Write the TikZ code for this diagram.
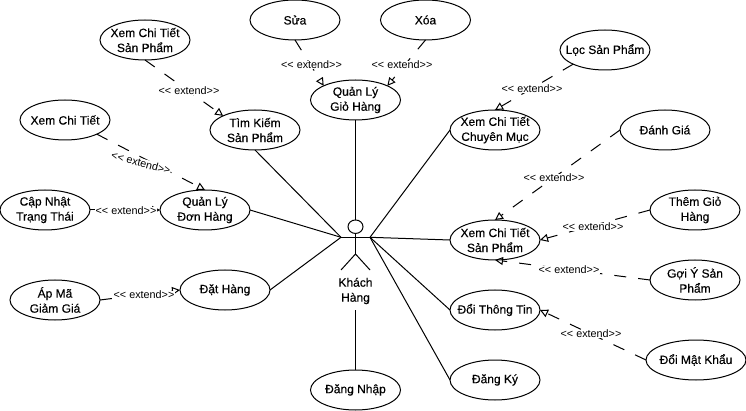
\documentclass[tikz,border=0pt]{standalone}
\usepackage{fontspec}
\setmainfont{Liberation Sans}
\newfontfamily\casefont[FakeBold=0.3]{Liberation Sans}
\usetikzlibrary{shapes.geometric,arrows.meta}
\tikzset{
  usecase/.style={ellipse,draw,line width=1pt,outer sep=0pt,inner xsep=-8pt,inner ysep=-1pt,minimum width=90pt,minimum height=40pt,align=center,font=\casefont\fontsize{12}{15}\selectfont},
  assoc/.style={line width=1pt},
  extendline/.style={line width=1pt,dash pattern=on 12pt off 12pt,-{Triangle[open,length=8pt,width=8pt]}},
  extendlabel/.style={fill=white,inner sep=0.5pt,font=\fontsize{10.8}{12}\selectfont}
}
\begin{document}
\begin{tikzpicture}[x=1pt,y=-1pt]
  \useasboundingbox (0,0) rectangle (746,411);
  \node[usecase] (sua) at (295,20) {Sửa}; \node[usecase] (xoa) at (425.5,20) {Xóa};
  \node[usecase] (ctsptop) at (145,40) {Xem Chi Tiết\\Sản Phẩm}; \node[usecase] (timkiem) at (255,130) {Tìm Kiếm\\Sản Phẩm};
  \node[usecase] (giohang) at (355.5,100) {Quản Lý\\Giỏ Hàng}; \node[usecase] (xemct) at (65,120) {Xem Chi Tiết};
  \node[usecase] (loc) at (605,50) {Lọc Sản Phẩm}; \node[usecase] (chuyenmuc) at (495,130) {Xem Chi Tiết\\Chuyên Mục};
  \node[usecase] (danhgia) at (665,130) {Đánh Giá}; \node[usecase] (themgio) at (695,210) {Thêm Giỏ\\Hàng};
  \node[usecase] (capnhat) at (45,210) {Cập Nhật\\Trạng Thái}; \node[usecase] (donhang) at (205,210) {Quản Lý\\Đơn Hàng};
  \node[usecase] (ctsp) at (495,240) {Xem Chi Tiết\\Sản Phẩm}; \node[usecase] (goiy) at (695,280) {Gợi Ý Sản\\Phẩm};
  \node[usecase] (apma) at (55,300) {Áp Mã\\Giảm Giá}; \node[usecase] (dathang) at (225,290) {Đặt Hàng};
  \node[usecase] (doitt) at (495,310) {Đổi Thông Tin}; \node[usecase,minimum width=100pt] (doimk) at (696,360) {Đổi Mật Khẩu};
  \node[usecase] (dangky) at (495,380) {Đăng Ký}; \node[usecase] (dangnhap) at (355.5,390) {Đăng Nhập};

  \node[ellipse,draw,line width=1pt,inner sep=0pt,outer sep=0pt,minimum width=15pt,minimum height=13.5pt] (head) at (355.5,226.7) {};
  \coordinate (armL) at (341,237.3); \coordinate (armR) at (370,237.3); \coordinate (hip) at (355.5,254);
  \coordinate (footL) at (341,270); \coordinate (footR) at (370,270);
  \draw[assoc] (armL) -- (armR);
  \draw[assoc] (head.south) -- (hip);
  \draw[assoc] (footL) -- (hip) -- (footR);
  \node[align=center,inner sep=0pt,minimum height=38pt,font=\casefont\fontsize{12}{15}\selectfont] (khach) at (355.5,291) {Khách\\Hàng};

  \draw[assoc] (giohang.south) -- (head.north);
  \draw[assoc] (timkiem.south) -- (armL);
  \draw[assoc] (donhang.east) -- (armL);
  \draw[assoc] (dathang.east) -- (armL);
  \draw[assoc] (chuyenmuc.west) -- (armR);
  \draw[assoc] (ctsp.west) -- (armR);
  \draw[assoc] (doitt.west) -- (armR);
  \draw[assoc] (dangky.west) -- (armR);
  \draw[assoc] (khach.south) -- (dangnhap.north);

  \draw[extendline] (ctsptop.south) -- (timkiem.north west);
  \draw[extendline] (sua.south) -- (giohang.north west);
  \draw[extendline] (xoa.south) -- (giohang.north east);
  \draw[extendline] (loc.south west) -- (chuyenmuc.north);
  \draw[extendline] (danhgia.west) -- (ctsp.north);
  \draw[extendline] (themgio.west) -- (ctsp.east);
  \draw[extendline] (goiy.west) -- (ctsp.south);
  \draw[extendline] (doimk.west) -- (doitt.east);
  \draw[extendline] (xemct.south east) -- (donhang.north);
  \draw[extendline] (capnhat.east) -- (donhang.west);
  \draw[extendline] (apma.east) -- (dathang.west);

  \node[extendlabel] (l1) at (189,90.5) {<{}< extend>{}>};
  \node[extendlabel] (l2) at (311.5,65) {<{}< extend>{}>};
  \node[extendlabel] (l3) at (402,65) {<{}< extend>{}>};
  \node[extendlabel] (l4) at (532,89) {<{}< extend>{}>};
  \node[extendlabel] (l5) at (554,178) {<{}< extend>{}>};
  \node[extendlabel] (l6) at (593,227) {<{}< extend>{}>};
  \node[extendlabel] (l7) at (569,270) {<{}< extend>{}>};
  \node[extendlabel] (l8) at (591,334) {<{}< extend>{}>};
  \node[extendlabel,rotate=-15] (l9) at (141,163) {<{}< extend>{}>};
  \node[extendlabel] (l10) at (126,211) {<{}< extend>{}>};
  \node[extendlabel] (l11) at (144,295) {<{}< extend>{}>};
\end{tikzpicture}
\end{document}
